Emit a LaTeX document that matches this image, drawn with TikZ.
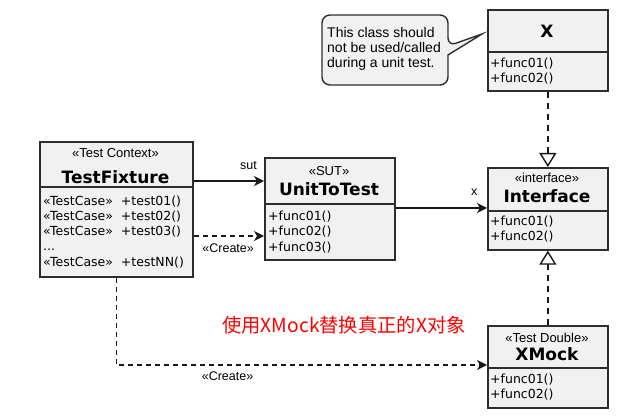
\documentclass[tikz,border=0pt]{standalone}
\usepackage{fontspec}
\setmainfont{Liberation Sans}
\newfontfamily\dejavu{DejaVu Sans}
\newfontfamily\cjk{Noto Sans CJK SC}
\usetikzlibrary{arrows.meta}
\definecolor{boxfill}{RGB}{241,241,241}
\definecolor{boxline}{RGB}{45,45,45}
\definecolor{linec}{RGB}{25,25,25}
\begin{document}
\begin{tikzpicture}[x=1pt,y=-1pt,
  classbox/.style={draw=boxline, line width=1.7pt, fill=boxfill, inner sep=0pt, anchor=north west},
  divline/.style={draw=boxline, line width=1.7pt},
  stereo/.style={font=\fontsize{13}{15}\selectfont, inner sep=0pt},
  cname/.style={font=\dejavu\bfseries\fontsize{17}{20}\selectfont, inner sep=0pt},
  member/.style={font=\dejavu\fontsize{12.5}{15}\selectfont, anchor=west, inner sep=0pt},
  lbl/.style={font=\fontsize{12.5}{15}\selectfont, inner sep=0pt},
  assoc/.style={draw=linec, line width=1.4pt, -{Stealth[length=10pt,width=10pt,inset=3pt]}},
  dep/.style={assoc, dash pattern=on 5pt off 4pt},
  realize/.style={draw=linec, line width=1.4pt, dash pattern=on 6pt off 5pt, -{Triangle[open, length=14pt, width=17pt, fill=white]}},
  callout/.style={draw=boxline, line width=1.4pt, fill=boxfill}
]
\useasboundingbox (0,0) rectangle (637,419);

% TestFixture
\node[classbox, minimum width=153pt, minimum height=135pt] (tf) at (39,141) {};
\draw[divline] ([yshift=-46pt]tf.north west) -- ([yshift=-46pt]tf.north east);
\node[stereo] (tfs) at (115.5,153) {«Test Context»};
\node[cname] (tfn) at (115.5,177) {TestFixture};
\node[member] (tfm1) at (43,202) {«TestCase»\ \ +test01()};
\node[member] (tfm2) at (43,217) {«TestCase»\ \ +test02()};
\node[member] (tfm3) at (43,232) {«TestCase»\ \ +test03()};
\node[member, anchor=base west] (tfm4) at (43,251) {...};
\node[member] (tfm5) at (43,263) {«TestCase»\ \ +testNN()};

% UnitToTest
\node[classbox, minimum width=130pt, minimum height=102pt] (ut) at (264,157) {};
\draw[divline] ([yshift=-47pt]ut.north west) -- ([yshift=-47pt]ut.north east);
\node[stereo] (uts) at (329,171) {«SUT»};
\node[cname] (utn) at (329,189) {UnitToTest};
\node[member] (utm1) at (268,217) {+func01()};
\node[member] (utm2) at (268,232) {+func02()};
\node[member] (utm3) at (268,248) {+func03()};

% X
\node[classbox, minimum width=120pt, minimum height=81pt] (xx) at (487,9) {};
\draw[divline] ([yshift=-43pt]xx.north west) -- ([yshift=-43pt]xx.north east);
\node[cname] (xxn) at (547,31) {X};
\node[member] (xxm1) at (490,64) {+func01()};
\node[member] (xxm2) at (490,79) {+func02()};

% Interface
\node[classbox, minimum width=120pt, minimum height=82pt] (if) at (487,167) {};
\draw[divline] ([yshift=-44pt]if.north west) -- ([yshift=-44pt]if.north east);
\node[stereo] (ifs) at (547,178) {«interface»};
\node[cname] (ifn) at (547,196) {Interface};
\node[member] (ifm1) at (490,222) {+func01()};
\node[member] (ifm2) at (490,237) {+func02()};

% XMock
\node[classbox, minimum width=120pt, minimum height=82pt] (xm) at (487,325) {};
\draw[divline] ([yshift=-43pt]xm.north west) -- ([yshift=-43pt]xm.north east);
\node[stereo] (xms) at (547,338) {«Test Double»};
\node[cname] (xmn) at (547,354) {XMock};
\node[member] (xmm1) at (490,380) {+func01()};
\node[member] (xmm2) at (490,395) {+func02()};

% callout
\draw[callout] (448,55) [rounded corners=8pt] -- (448,85) -- (322,85) -- (322,15) -- (448,15) -- (448,46) [sharp corners] -- (482,34) -- cycle;
\node[font=\fontsize{14}{15}\selectfont, align=left, anchor=west, inner sep=0pt] (ctext) at (327,49) {This class should\\not be used/called\\during a unit test.};

% connectors
\draw[assoc] (tf.east |- 0,181) -- node[lbl, pos=0.78, yshift=15pt] (lsut) {sut} (ut.west |- 0,181);
\draw[dep] (tf.east |- 0,236) -- node[lbl, pos=0.49, yshift=-12pt] (lcr1) {«Create»} (ut.west |- 0,236);
\draw[assoc] (ut.east |- 0,208) -- node[lbl, pos=0.86, yshift=16pt] (lx) {x} (if.west |- 0,208);
\draw[realize] (xx.south) -- (if.north);
\draw[realize] (xm.north) -- (if.south);
\draw[dep] (tf.south) |- node[lbl, pos=0.65, yshift=-11pt] (lcr2) {«Create»} (xm.west |- 0,365);

% note
\node[font=\cjk\fontsize{19.3}{21}\selectfont, text=red, inner sep=0pt] (note) at (344,325) {使用XMock替换真正的X对象};
\end{tikzpicture}
\end{document}
